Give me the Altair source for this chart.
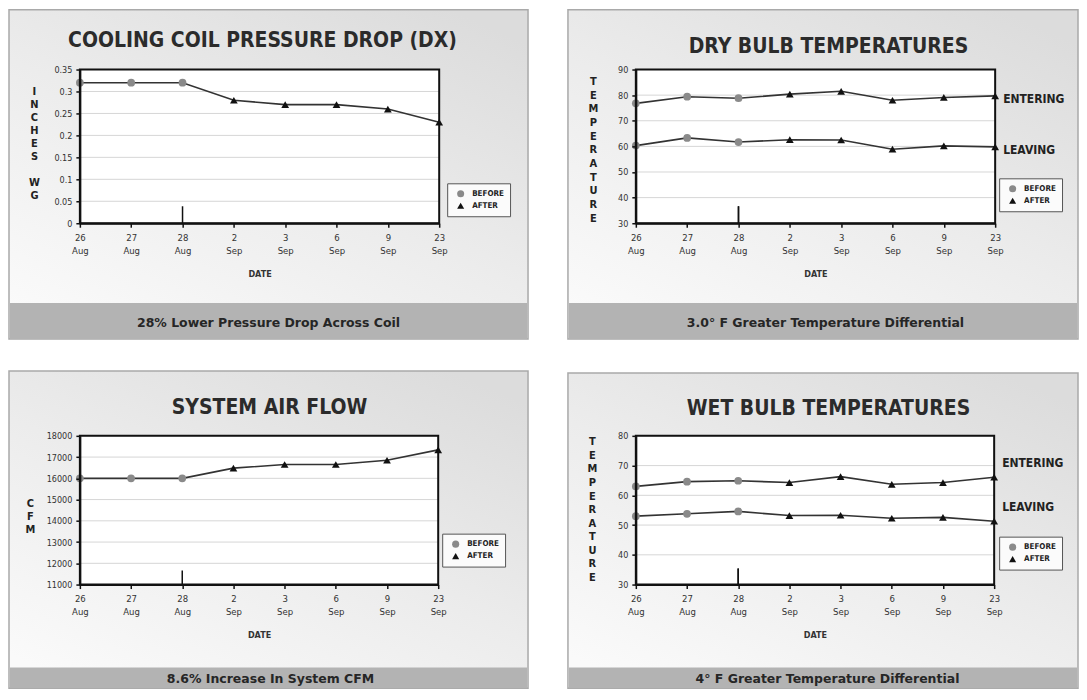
import altair as alt
import pandas as pd

# ---------------- data ----------------
DATES = ["26 Aug", "27 Aug", "28 Aug", "2 Sep", "3 Sep", "6 Sep", "9 Sep", "23 Sep"]
PHASE = ["BEFORE", "BEFORE", "BEFORE", "AFTER", "AFTER", "AFTER", "AFTER", "AFTER"]

PRESSURE = [0.32, 0.32, 0.32, 0.28, 0.27, 0.27, 0.26, 0.23]
DRY_ENTERING = [76.8, 79.4, 78.8, 80.4, 81.5, 78.0, 79.1, 79.7]
DRY_LEAVING = [60.3, 63.3, 61.7, 62.6, 62.5, 58.9, 60.2, 59.8]
CFM = [16000, 16000, 16000, 16480, 16650, 16650, 16850, 17340]
WET_ENTERING = [63.0, 64.6, 64.9, 64.3, 66.3, 63.7, 64.3, 66.1]
WET_LEAVING = [53.0, 53.8, 54.6, 53.2, 53.3, 52.3, 52.6, 51.3]

P1_TICKS = [0, 0.05, 0.1, 0.15, 0.2, 0.25, 0.3, 0.35]
DRY_TICKS = [30, 40, 50, 60, 70, 80, 90]
CFM_TICKS = [11000, 12000, 13000, 14000, 15000, 16000, 17000, 18000]
WET_TICKS = [30, 40, 50, 60, 70, 80]

TITLES = ["COOLING COIL PRESSURE DROP (DX)", "DRY BULB TEMPERATURES",
          "SYSTEM AIR FLOW", "WET BULB TEMPERATURES"]
CAPTIONS = ["28% Lower Pressure Drop Across Coil",
            "3.0\u00b0 F Greater Temperature Differential",
            "8.6% Increase In System CFM",
            "4\u00b0 F Greater Temperature Differential"]
SERIES_NAMES = ["ENTERING", "LEAVING"]
PHASES = ["BEFORE", "AFTER"]


def frame(series_lists):
    rows = []
    for name, vals in series_lists:
        for i, (d, p, v) in enumerate(zip(DATES, PHASE, vals)):
            rows.append({"date": d, "phase": p, "value": v, "series": name, "idx": i})
    return pd.DataFrame(rows)


COND = "DejaVu Sans Condensed, Liberation Sans Narrow, Arial Narrow, DejaVu Sans"
BOLD = "DejaVu Sans, Liberation Sans, Arial"
ONE = pd.DataFrame({"k": [0]})

BG = alt.Gradient(
    gradient="linear",
    stops=[alt.GradientStop(color="#dcdcdc", offset=0),
           alt.GradientStop(color="#ececec", offset=0.5),
           alt.GradientStop(color="#fafafa", offset=1)],
    x1=0.85, y1=0, x2=0.15, y2=1,
)


def panel(df, w, h, ydom, yticks, yfmt, ytitle, ytitle_xy, ytitle_lh,
          box, band, title, title_xy, caption, cap_xy, legend_xy, rule_len,
          label_dy=None):
    xenc = alt.X(
        "date:O", sort=DATES,
        scale=alt.Scale(type="point", padding=0),
        axis=alt.Axis(
            title="DATE", labelExpr="split(datum.label, ' ')", labelAngle=0,
            labelFont=COND, labelFontSize=9.5, labelLineHeight=13, labelColor="#333",
            labelPadding=5, tickSize=4, tickColor="#111", tickWidth=1.5,
            domainColor="#111", domainWidth=2, titleFont=COND, titleFontSize=9,
            titleFontWeight="bold", titleColor="#333", titlePadding=15, zindex=2,
        ),
    )
    yscale = alt.Scale(domain=ydom, nice=False, zero=False)
    yenc = alt.Y(
        "value:Q", scale=yscale,
        axis=alt.Axis(
            values=yticks, format=yfmt, grid=False, labelFont=COND, labelFontSize=9,
            labelColor="#333", labelPadding=4, tickSize=4, tickColor="#111",
            tickWidth=1.5, domainColor="#111", domainWidth=2,
            title=ytitle, titleAngle=0, titleX=ytitle_xy[0], titleY=ytitle_xy[1],
            titleAlign="center", titleBaseline="top", titleLineHeight=ytitle_lh,
            titleFont=COND, titleFontSize=11, titleFontWeight="bold",
            titleColor="#222", zindex=2,
        ),
    )
    leg = alt.Legend(
        orient="none", legendX=legend_xy[0], legendY=legend_xy[1], title=None,
        strokeColor="#555", fillColor="#fbfbfb", padding=6, symbolOffset=3,
        labelOffset=7, rowPadding=3, labelFont=COND, labelFontSize=8,
        labelFontWeight="bold", labelColor="#222", symbolSize=50, zindex=3,
    )
    color = alt.Color("phase:N", scale=alt.Scale(domain=PHASES, range=["#8a8a8a", "#111111"]), legend=leg)
    shape = alt.Shape("phase:N", scale=alt.Scale(domain=PHASES, range=["circle", "triangle-up"]), legend=leg)

    bg = alt.Chart(ONE).mark_rect(fill=BG, stroke="#a9a9a9", strokeWidth=1.5).encode(
        x=alt.value(box[0]), x2=alt.value(box[1]), y=alt.value(box[2]), y2=alt.value(box[3]))
    bandr = alt.Chart(ONE).mark_rect(fill="#b3b3b3").encode(
        x=alt.value(box[0] + 1), x2=alt.value(box[1] - 1), y=alt.value(band[0]), y2=alt.value(band[1]))
    plotbg = alt.Chart(ONE).mark_rect(fill="white").encode(
        x=alt.value(0), x2=alt.value(w), y=alt.value(0), y2=alt.value(h))
    grid = alt.Chart(pd.DataFrame({"value": yticks})).mark_rule(color="#d6d6d6", strokeWidth=1).encode(
        y=yenc)
    line = alt.Chart(df).mark_line(color="#333333", strokeWidth=1.6).encode(
        x=xenc, y=yenc, detail="series:N", order="idx:Q")
    pts = alt.Chart(df).mark_point(filled=True, opacity=1, size=60).encode(
        x=xenc, y=yenc, color=color, shape=shape)
    rule = alt.Chart(df).transform_filter("datum.date == '28 Aug'").mark_rule(
        color="#111", strokeWidth=1.5).encode(x=xenc, y=alt.value(h), y2=alt.value(h - rule_len))
    ttl = alt.Chart(ONE).mark_text(
        text=title, font=COND, fontSize=21, fontWeight="bold", color="#2b2b2b",
        align="center", baseline="middle").encode(x=alt.value(title_xy[0]), y=alt.value(title_xy[1]))
    cap = alt.Chart(ONE).mark_text(
        text=caption, font=BOLD, fontSize=12.5, fontWeight="bold", color="#262626",
        align="center", baseline="middle").encode(x=alt.value(cap_xy[0]), y=alt.value(cap_xy[1]))
    border = alt.Chart(ONE).mark_rect(fillOpacity=0, stroke="#111", strokeWidth=2).encode(
        x=alt.value(0), x2=alt.value(w), y=alt.value(0), y2=alt.value(h))

    layers = [bg, bandr, plotbg, grid, line, pts, rule, ttl, cap]
    if label_dy is not None:
        lab = alt.Chart(df).transform_filter("datum.date == '23 Sep'").mark_text(
            align="left", baseline="middle", dx=8, dy=label_dy, font=COND, fontSize=12,
            fontWeight="bold", color="#222").encode(x=xenc, y=yenc, text="series:N")
        layers.append(lab)
    layers.append(border)
    return alt.layer(*layers).properties(width=w, height=h)


p1 = panel(frame([("PRESSURE", PRESSURE)]), 360, 154, [0, 0.35], P1_TICKS, ".2~f",
           ["I", "N", "C", "H", "E", "S", "\u2800", "W", "G"], (-46, 16), 13,
           (-71, 449, -60, 270), (234, 270), TITLES[0], (183, -29),
           CAPTIONS[0], (189, 254), (368, 114), 17)
p2 = panel(frame([(SERIES_NAMES[0], DRY_ENTERING), (SERIES_NAMES[1], DRY_LEAVING)]),
           360, 154, [30, 90], DRY_TICKS, "d",
           list("TEMPERATURE"), (-43, 6), 13.7,
           (-68, 443, -60, 270), (234, 270), TITLES[1], (193, -23),
           CAPTIONS[1], (190, 254), (364, 109), 17, label_dy=3)
p3 = panel(frame([("CFM", CFM)]), 359, 149, [11000, 18000], CFM_TICKS, "d",
           ["C", "F", "M"], (-50, 62), 13,
           (-71, 449, -65, 253), (232, 253), TITLES[2], (190, -28),
           CAPTIONS[2], (191, 244), (363, 98), 14)
p4 = panel(frame([(SERIES_NAMES[0], WET_ENTERING), (SERIES_NAMES[1], WET_LEAVING)]),
           359, 149, [30, 80], WET_TICKS, "d",
           list("TEMPERATURE"), (-44, 0), 13.6,
           (-68, 443, -63, 253), (232, 253), TITLES[3], (193, -27),
           CAPTIONS[3], (192, 244), (364, 101), 16, label_dy=-14)

chart = alt.concat(
    p1, p2, p3, p4, columns=2, spacing={"row": 213, "column": 197}, bounds="flush"
).resolve_scale(
    x="independent", y="independent", color="independent", shape="independent"
).resolve_legend(
    color="independent", shape="independent"
).properties(
    padding={"left": 0, "top": 0, "right": 0, "bottom": 0}, background="white"
).configure_view(strokeWidth=0)

chart.save("out.html", embed_options={"renderer": "svg", "actions": False})
